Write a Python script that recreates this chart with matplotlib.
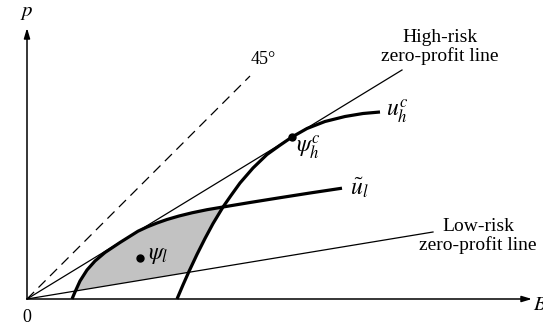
"""
Insurance screening diagram: high- and low-risk zero-profit lines,
the high-risk indifference curve through its full-insurance contract and
the low-risk indifference curve, with the set of low-risk contracts that
the high-risk type would not choose shaded.
"""

import numpy as np
import matplotlib.pyplot as plt

plt.rcParams["font.family"] = ["Liberation Serif", "DejaVu Serif"]
plt.rcParams["mathtext.fontset"] = "stix"

# benefit B (x) and premium p (y) endpoints of the straight lines
LINE_45_B = [0.0, 2.23]
LINE_45_P = [0.0, 2.23]
HIGH_ZP_B = [0.0, 3.75]
HIGH_ZP_P = [0.0, 2.29]
LOW_ZP_B = [0.0, 4.06]
LOW_ZP_P = [0.0, 0.67]

# high-risk indifference curve u_h^c
UH_B = [1.50, 1.56, 1.62, 1.70, 1.78, 1.86, 1.96, 2.04, 2.13, 2.26,
        2.40, 2.53, 2.65, 2.80, 2.98, 3.18, 3.36, 3.53]
UH_P = [0.00, 0.141, 0.276, 0.446, 0.605, 0.754, 0.92, 1.035, 1.16, 1.31,
        1.445, 1.538, 1.62, 1.705, 1.775, 1.825, 1.855, 1.87]

# low-risk indifference curve ~u_l
UL_B = [0.45, 0.48, 0.53, 0.60, 0.68, 0.78, 0.93, 1.11, 1.20, 1.30,
        1.40, 1.52, 1.65, 1.80, 1.96, 2.23, 2.53, 2.83, 3.15]
UL_P = [0.00, 0.07, 0.18, 0.29, 0.38, 0.465, 0.565, 0.678, 0.72, 0.76,
        0.795, 0.83, 0.862, 0.893, 0.92, 0.965, 1.013, 1.06, 1.108]

# contracts
PSI_L = (1.13, 0.41)
PSI_HC = (2.65, 1.62)

AXIS_B_MAX = 5.05
AXIS_P_MAX = 2.71


def _cross_line(bs, ps, slope):
    """First point where a curve crosses p = slope * B (linear between points)."""
    bs, ps = np.asarray(bs), np.asarray(ps)
    d = ps - slope * bs
    i = int(np.argmax(d > 0))
    t = -d[i - 1] / (d[i] - d[i - 1])
    return bs[i - 1] + t * (bs[i] - bs[i - 1]), ps[i - 1] + t * (ps[i] - ps[i - 1])


fig = plt.figure(figsize=(5.43, 3.24), dpi=100)
ax = fig.add_axes([0, 0, 1, 1])
ax.set_xlim(-0.27, 5.16)
ax.set_ylim(-0.25, 2.99)
ax.axis("off")

# shaded region: under ~u_l, above the low-risk line, left of u_h^c
low_slope = LOW_ZP_P[1] / LOW_ZP_B[1]
a_b, a_p = _cross_line(UL_B, UL_P, low_slope)
b_b, b_p = _cross_line(UH_B, UH_P, low_slope)
top_b = UH_B[6]
poly_b = [a_b] + [x for x in UL_B if a_b < x <= top_b]
poly_p = [a_p] + [y for x, y in zip(UL_B, UL_P) if a_b < x <= top_b]
poly_b += [x for x in UH_B[::-1] if b_b < x < top_b] + [b_b]
poly_p += [y for x, y in zip(UH_B[::-1], UH_P[::-1]) if b_b < x < top_b] + [b_p]
ax.fill(poly_b, poly_p, color="#c2c2c2", lw=0, zorder=1)

# axes with arrowheads
arrow = dict(arrowstyle="-|>,head_length=0.6,head_width=0.18", color="black",
             lw=1.1, shrinkA=0, shrinkB=0)
ax.annotate("", xy=(AXIS_B_MAX, 0), xytext=(0, 0), arrowprops=arrow)
ax.annotate("", xy=(0, AXIS_P_MAX), xytext=(0, 0), arrowprops=arrow)

ax.plot(LINE_45_B, LINE_45_P, color="black", lw=0.9, ls=(0, (8, 5)))
ax.plot(HIGH_ZP_B, HIGH_ZP_P, color="black", lw=0.9)
ax.plot(LOW_ZP_B, LOW_ZP_P, color="black", lw=0.9)
ax.plot(UH_B, UH_P, color="black", lw=2.3, solid_capstyle="butt",
        solid_joinstyle="round", zorder=3)
ax.plot(UL_B, UL_P, color="black", lw=2.3, solid_capstyle="butt",
        solid_joinstyle="round", zorder=3)

ax.plot(*PSI_L, "o", color="black", ms=5, zorder=4)
ax.plot(*PSI_HC, "o", color="black", ms=5, zorder=4)

fs = 14
ax.text(0, 2.87, "$p$", fontsize=fs + 1, ha="center", va="center")
ax.text(5.06, -0.06, "$B$", fontsize=fs + 1, ha="left", va="center")
ax.text(0, -0.18, "0", fontsize=fs - 1, ha="center", va="center")
ax.text(2.36, 2.39, "45°", fontsize=fs - 1, ha="center", va="center")
ax.text(4.13, 2.52, "High-risk\nzero-profit line", fontsize=fs,
        ha="center", va="center", linespacing=1.15)
ax.text(4.51, 0.63, "Low-risk\nzero-profit line", fontsize=fs,
        ha="center", va="center", linespacing=1.15)
ax.text(3.59, 1.88, r"$u_h^c$", fontsize=fs + 3, ha="left", va="center")
ax.text(3.23, 1.11, r"$\tilde{u}_l$", fontsize=fs + 3, ha="left", va="center")
ax.text(2.69, 1.52, r"$\psi_h^c$", fontsize=fs + 3, ha="left", va="center")
ax.text(1.21, 0.44, r"$\psi_l$", fontsize=fs + 3, ha="left", va="center")

fig.savefig("out.png", dpi=100)
